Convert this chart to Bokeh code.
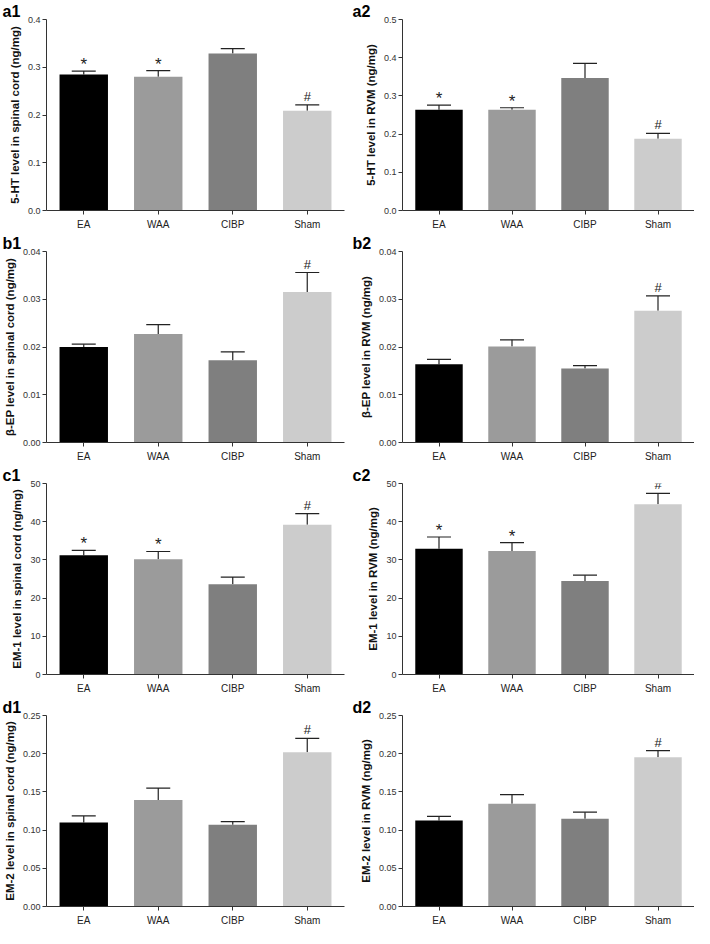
from bokeh.plotting import figure
from bokeh.layouts import gridplot
from bokeh.models import (Range1d, FixedTicker, NumeralTickFormatter, Whisker,
                          TeeHead, ColumnDataSource, FactorRange, Title)
from bokeh.core.properties import value
from bokeh.embed import file_html
from bokeh.resources import INLINE

groups = ["EA", "WAA", "CIBP", "Sham"]
bar_colors = ["#000000", "#9b9b9b", "#7f7f7f", "#cccccc"]

# a1: 5-HT spinal cord
ht_sc_mean = [0.285, 0.280, 0.329, 0.209]
ht_sc_sem = [0.007, 0.013, 0.010, 0.012]
ht_sc_mark = ["*", "*", "", "#"]
# a2: 5-HT RVM
ht_rvm_mean = [0.264, 0.264, 0.347, 0.188]
ht_rvm_sem = [0.012, 0.005, 0.038, 0.014]
ht_rvm_mark = ["*", "*", "", "#"]
# b1: beta-EP spinal cord
ep_sc_mean = [0.0200, 0.0227, 0.0172, 0.0315]
ep_sc_sem = [0.0006, 0.0020, 0.0018, 0.0041]
ep_sc_mark = ["", "", "", "#"]
# b2: beta-EP RVM
ep_rvm_mean = [0.0164, 0.0201, 0.0155, 0.0276]
ep_rvm_sem = [0.0010, 0.0014, 0.0006, 0.0031]
ep_rvm_mark = ["", "", "", "#"]
# c1: EM-1 spinal cord
em1_sc_mean = [31.2, 30.2, 23.6, 39.2]
em1_sc_sem = [1.3, 2.0, 1.9, 2.9]
em1_sc_mark = ["*", "*", "", "#"]
# c2: EM-1 RVM
em1_rvm_mean = [32.9, 32.3, 24.5, 44.6]
em1_rvm_sem = [3.1, 2.2, 1.5, 2.8]
em1_rvm_mark = ["*", "*", "", "#"]
# d1: EM-2 spinal cord
em2_sc_mean = [0.110, 0.1395, 0.107, 0.202]
em2_sc_sem = [0.0085, 0.0155, 0.004, 0.018]
em2_sc_mark = ["", "", "", "#"]
# d2: EM-2 RVM
em2_rvm_mean = [0.1127, 0.1344, 0.1148, 0.1953]
em2_rvm_sem = [0.0053, 0.0121, 0.0087, 0.0088]
em2_rvm_mark = ["", "", "", "#"]

ticks_a1 = [0.0, 0.1, 0.2, 0.3, 0.4]
ticks_a2 = [0.0, 0.1, 0.2, 0.3, 0.4, 0.5]
ticks_b = [0.00, 0.01, 0.02, 0.03, 0.04]
ticks_c = [0, 10, 20, 30, 40, 50]
ticks_d = [0.00, 0.05, 0.10, 0.15, 0.20, 0.25]

panels = [
    ("a1", "5-HT level in spinal cord (ng/mg)", ht_sc_mean, ht_sc_sem, ht_sc_mark, ticks_a1, "0.0"),
    ("a2", "5-HT level in RVM (ng/mg)", ht_rvm_mean, ht_rvm_sem, ht_rvm_mark, ticks_a2, "0.0"),
    ("b1", "β-EP level in spinal cord (ng/mg)", ep_sc_mean, ep_sc_sem, ep_sc_mark, ticks_b, "0.00"),
    ("b2", "β-EP level in RVM (ng/mg)", ep_rvm_mean, ep_rvm_sem, ep_rvm_mark, ticks_b, "0.00"),
    ("c1", "EM-1 level in spinal cord (ng/mg)", em1_sc_mean, em1_sc_sem, em1_sc_mark, ticks_c, "0"),
    ("c2", "EM-1 level in RVM (ng/mg)", em1_rvm_mean, em1_rvm_sem, em1_rvm_mark, ticks_c, "0"),
    ("d1", "EM-2 level in spinal cord (ng/mg)", em2_sc_mean, em2_sc_sem, em2_sc_mark, ticks_d, "0.00"),
    ("d2", "EM-2 level in RVM (ng/mg)", em2_rvm_mean, em2_rvm_sem, em2_rvm_mark, ticks_d, "0.00"),
]

FONT = "Liberation Sans"
AX = "#333333"

figs = []
for i, (tag, ylabel, mean, sem, mark, ticks, fmt) in enumerate(panels):
    left_col = (i % 2 == 0)
    p = figure(x_range=FactorRange(*groups, range_padding=0),
               y_range=Range1d(ticks[0], ticks[-1]),
               width=350 if left_col else 344, height=232,
               output_backend="svg", toolbar_location=None,
               min_border_left=44 if left_col else 52,
               min_border_right=6 if left_col else 0,
               min_border_top=0, min_border_bottom=0)
    p.title = Title(text=tag, align="left", offset=-44 if left_col else -50, standoff=0,
                    text_font=FONT, text_font_style="bold",
                    text_font_size="16px", text_color="#000000")
    top = [m + s for m, s in zip(mean, sem)]
    msize = ["17px" if m == "*" else "13px" for m in mark]
    moff = [3 if m == "*" else -1 for m in mark]
    src = ColumnDataSource(dict(group=groups, mean=mean, top=top, mark=mark,
                                color=bar_colors, msize=msize, moff=moff))
    p.vbar(x="group", top="mean", bottom=0, width=0.65, source=src,
           fill_color="color", line_color=None)
    p.add_layout(Whisker(base="group", lower="mean", upper="top", source=src,
                         dimension="height", lower_head=None,
                         upper_head=TeeHead(size=24, line_color="#222222", line_width=1.2),
                         line_color="#222222", line_width=1.2))
    p.text(x="group", y="top", text="mark", source=src, text_align="center",
           text_baseline="bottom", y_offset="moff", text_font_size="msize",
           text_font=value(FONT), text_color="#222222")
    p.xgrid.visible = False
    p.ygrid.visible = False
    p.outline_line_color = None
    p.background_fill_color = "white"

    ya = p.yaxis[0]
    ya.ticker = FixedTicker(ticks=ticks)
    ya.formatter = NumeralTickFormatter(format=fmt)
    ya.axis_label = ylabel
    ya.axis_label_text_font = FONT
    ya.axis_label_text_font_style = "bold"
    ya.axis_label_text_font_size = "11.5px"
    ya.axis_label_text_color = "#111111"
    ya.axis_label_standoff = 4
    ya.major_label_text_font = FONT
    ya.major_label_text_font_size = "9px"
    ya.major_label_text_color = AX
    ya.major_label_standoff = 2
    ya.major_tick_in = 0
    ya.major_tick_out = 4
    ya.minor_tick_out = 0
    ya.minor_tick_in = 0
    ya.axis_line_color = AX
    ya.major_tick_line_color = AX

    xa = p.xaxis[0]
    xa.major_label_text_font = FONT
    xa.major_label_text_font_size = "10px"
    xa.major_label_text_color = "#222222"
    xa.major_label_standoff = 4
    xa.major_tick_in = 0
    xa.major_tick_out = 4
    xa.axis_line_color = AX
    xa.major_tick_line_color = AX
    figs.append(p)

grid = gridplot(figs, ncols=2, toolbar_location=None)
open("out.html", "w").write(file_html(grid, INLINE))
